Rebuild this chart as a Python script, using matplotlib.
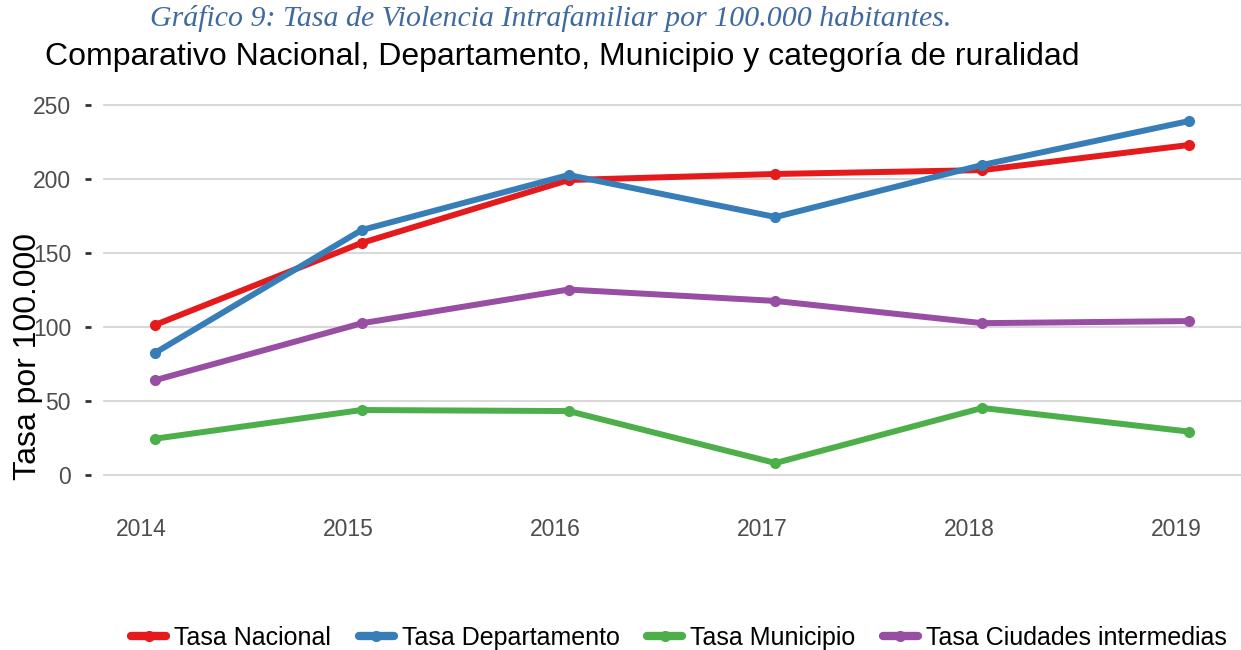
import matplotlib
matplotlib.use('Agg')
import matplotlib.pyplot as plt
import matplotlib.transforms as mtransforms

years = [2014, 2015, 2016, 2017, 2018, 2019]
tasa_nacional = [101.3, 156.8, 199.3, 203.4, 206.0, 223.0]
tasa_departamento = [82.4, 165.5, 202.7, 174.3, 209.5, 239.2]
tasa_municipio = [24.5, 43.9, 43.2, 8.1, 45.3, 29.3]
tasa_ciudades = [64.0, 102.5, 125.3, 117.6, 102.6, 104.0]

series = [
    ('Tasa Nacional', tasa_nacional, '#E41A1C'),
    ('Tasa Departamento', tasa_departamento, '#377EB8'),
    ('Tasa Municipio', tasa_municipio, '#4DAF4A'),
    ('Tasa Ciudades intermedias', tasa_ciudades, '#984EA3'),
]

plt.rcParams['font.family'] = ['Liberation Sans', 'DejaVu Sans']

fig = plt.figure(figsize=(12.41, 6.5), dpi=100)
ax = fig.add_axes([103 / 1241, 1 - 493.5 / 650, 1 - 103 / 1241, (493.5 - 86.5) / 650])

for label, values, colour in series:
    ax.plot(years, values, color=colour, linewidth=4.3, marker='o', markersize=7,
            solid_capstyle='round', label=label)

ax.set_xlim(2013.75, 2019.25)
ax.set_ylim(-12.5, 262.5)
ax.set_yticks([0, 50, 100, 150, 200, 250])
ax.set_xticks(years)
ax.grid(axis='y', color='#d9d9d9', linewidth=1.5)
ax.set_axisbelow(True)
for side in ['top', 'right', 'bottom', 'left']:
    ax.spines[side].set_visible(False)
ax.spines['left'].set_position(('outward', 9))
ax.tick_params(axis='y', length=4, width=2, color='#333333', pad=10,
               labelsize=16.5, labelcolor='#4d4d4d')
ax.tick_params(axis='x', length=0, pad=18, labelsize=16.5, labelcolor='#4d4d4d')

# the year labels sit a little left of their points in the original
shift = mtransforms.ScaledTranslation(-13 / 100, 0, fig.dpi_scale_trans)
for lbl in ax.get_xticklabels():
    lbl.set_transform(lbl.get_transform() + shift)

fig.text(28 / 1241, 1 - 357 / 650, 'Tasa por 100.000', rotation=90, fontsize=23,
         ha='center', va='center', color='black')

fig.text(551 / 1241, 1 - 18 / 650,
         'Gráfico 9: Tasa de Violencia Intrafamiliar por 100.000 habitantes.',
         family=['Liberation Serif', 'DejaVu Serif'], style='italic', fontsize=21.5,
         color='#3F6AA0', ha='center', va='center')
fig.text(45 / 1241, 1 - 57 / 650,
         'Comparativo Nacional, Departamento, Municipio y categoría de ruralidad',
         fontsize=23, color='black', ha='left', va='center')

fig.legend(loc='center', bbox_to_anchor=(679 / 1241, 1 - 638 / 650), ncol=4,
           frameon=False, fontsize=18, handlelength=1.4, handletextpad=0.32,
           columnspacing=1.1, borderaxespad=0)
for line in fig.legends[0].get_lines():
    line.set_linewidth(6)

fig.savefig('out.png', dpi=100)
